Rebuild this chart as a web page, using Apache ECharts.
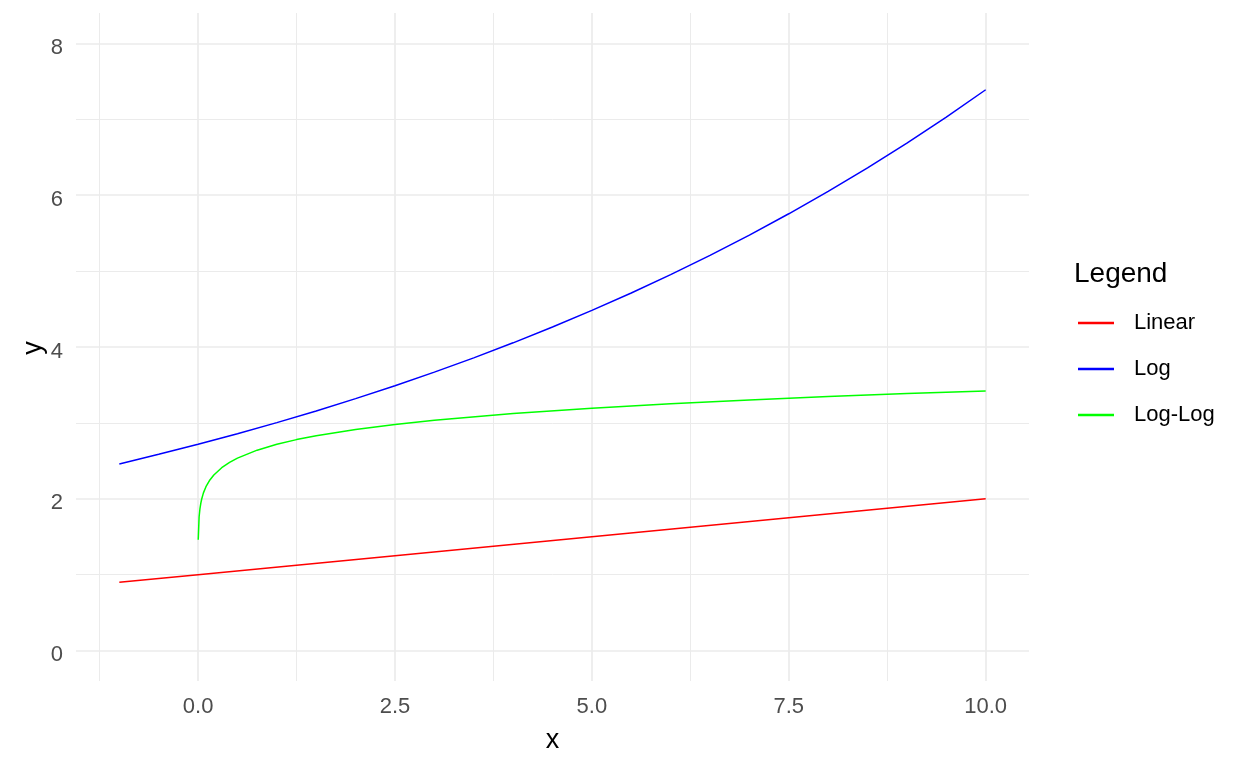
<!DOCTYPE html>
<html>
<head>
<meta charset="utf-8">
<script src="https://cdn.jsdelivr.net/npm/echarts@6/dist/echarts.min.js"></script>
<style>
  html, body { margin: 0; padding: 0; background: #ffffff; }
  #chart { width: 1248px; height: 768px; }
</style>
</head>
<body>
<div id="chart"></div>
<script>
// ---- Data ----
var seriesNames = ['Linear', 'Log', 'Log-Log'];
var seriesColors = ['#ff0000', '#0000ff', '#00ff00'];

var linearX = [-1, 0, 2.5, 5, 7.5, 10];
var linearY = [0.9, 1.0, 1.25, 1.5, 1.75, 2.0];

var logX = [-1, -0.5, 0, 0.5, 1, 1.5, 2, 2.5, 3, 3.5, 4, 4.5, 5, 5.5, 6, 6.5, 7, 7.5, 8, 8.5, 9, 9.5, 10];
var logY = [2.460, 2.586, 2.718, 2.858, 3.004, 3.158, 3.320, 3.490, 3.669, 3.857, 4.055, 4.263, 4.482, 4.712, 4.953, 5.207, 5.474, 5.755, 6.050, 6.360, 6.686, 7.029, 7.389];

var loglogX = [0.002, 0.013, 0.024, 0.035, 0.046, 0.068, 0.1, 0.15, 0.2, 0.3, 0.4, 0.5, 0.75, 1, 1.25, 1.5, 2, 2.5, 3, 4, 5, 6, 7, 8, 9, 10];
var loglogY = [1.460, 1.761, 1.872, 1.944, 1.998, 2.078, 2.159, 2.249, 2.314, 2.410, 2.480, 2.536, 2.641, 2.718, 2.780, 2.831, 2.913, 2.979, 3.034, 3.123, 3.193, 3.252, 3.302, 3.347, 3.386, 3.422];

var xTicks = [0, 2.5, 5, 7.5, 10];
var xMinorTicks = [-1.25, 1.25, 3.75, 6.25, 8.75];
var yTicks = [0, 2, 4, 6, 8];
var yMinorTicks = [1, 3, 5, 7];

var xTitle = 'x';
var yTitle = 'y';
var legendTitle = 'Legend';

// ---- Build ----
function pairs(xs, ys) { return xs.map(function (x, i) { return [x, ys[i]]; }); }
var dataSets = [pairs(linearX, linearY), pairs(logX, logY), pairs(loglogX, loglogY)];

var FONT = '"Liberation Sans", Arial, sans-serif';
var GRID_COLOR = '#ebebeb';

function gridLines(values, key, width) {
  return values.map(function (v) {
    var o = {}; o[key] = v;
    o.lineStyle = { color: GRID_COLOR, width: width, type: 'solid' };
    return o;
  });
}

var series = [{
  name: '__grid',
  type: 'line',
  data: [],
  z: 1,
  silent: true,
  markLine: {
    silent: true,
    z: 1,
    zlevel: 0,
    symbol: ['none', 'none'],
    label: { show: false },
    emphasis: { disabled: true },
    animation: false,
    data: [].concat(
      gridLines(xMinorTicks, 'xAxis', 1),
      gridLines(yMinorTicks, 'yAxis', 1),
      gridLines(xTicks, 'xAxis', 1.7),
      gridLines(yTicks, 'yAxis', 1.7)
    )
  }
}];

seriesNames.forEach(function (name, i) {
  series.push({
    name: name,
    type: 'line',
    data: dataSets[i],
    showSymbol: false,
    symbol: 'none',
    smooth: false,
    z: 10,
    lineStyle: { color: seriesColors[i], width: 1.5 },
    itemStyle: { color: seriesColors[i] }
  });
});

var chart = echarts.init(document.getElementById('chart'), null, { renderer: 'canvas' });
chart.setOption({
  animation: false,
  backgroundColor: '#ffffff',
  grid: { left: 76, top: 13, width: 953, height: 668, containLabel: false },
  xAxis: {
    type: 'value',
    min: -1.55,
    max: 10.55,
    name: xTitle,
    nameLocation: 'middle',
    nameGap: 46,
    nameTextStyle: { fontFamily: FONT, fontSize: 27, color: '#000000' },
    axisLine: { show: false },
    axisTick: { show: false },
    splitLine: { show: false },
    axisLabel: {
      customValues: xTicks,
      margin: 15,
      fontFamily: FONT,
      fontSize: 22,
      color: '#4d4d4d',
      formatter: function (v) { return v.toFixed(1); }
    }
  },
  yAxis: {
    type: 'value',
    min: -0.4,
    max: 8.4,
    axisLine: { show: false },
    axisTick: { show: false },
    splitLine: { show: false },
    axisLabel: {
      customValues: yTicks,
      margin: 13,
      verticalAlign: 'top',
      lineHeight: 9,
      fontFamily: FONT,
      fontSize: 22,
      color: '#4d4d4d',
      formatter: function (v) { return String(v); }
    }
  },
  legend: {
    data: seriesNames,
    orient: 'vertical',
    left: 1078,
    top: 312,
    padding: 0,
    itemGap: 24,
    itemWidth: 36,
    itemHeight: 2.3,
    icon: 'rect',
    textStyle: { fontFamily: FONT, fontSize: 22, color: '#000000', padding: [2, 0, 0, 15] }
  },
  graphic: [{
    type: 'text',
    left: 1074,
    top: 260,
    style: { text: legendTitle, font: '28px ' + FONT, fill: '#000000' }
  }, {
    type: 'text',
    x: 34,
    y: 348,
    rotation: Math.PI / 2,
    style: { text: yTitle, font: '27px ' + FONT, fill: '#000000', align: 'center', verticalAlign: 'middle' }
  }],
  series: series
});
</script>
</body>
</html>
